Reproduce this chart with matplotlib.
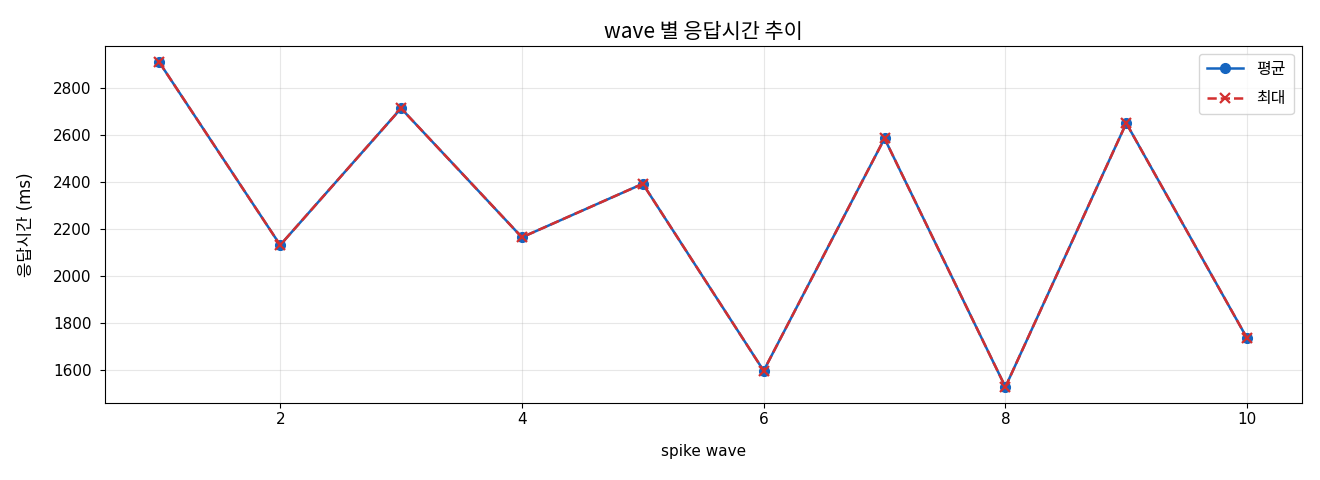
import matplotlib
matplotlib.use("Agg")
import matplotlib.pyplot as plt

plt.rcParams['font.family'] = ['DejaVu Sans', 'Noto Sans CJK KR']
plt.rcParams['axes.unicode_minus'] = False

waves = [1, 2, 3, 4, 5, 6, 7, 8, 9, 10]
avg_ms = [2911, 2133, 2715, 2166, 2394, 1598, 2587, 1529, 2652, 1736]
max_ms = [2911, 2133, 2715, 2166, 2394, 1598, 2587, 1529, 2652, 1736]

fig, ax = plt.subplots(figsize=(13.2, 4.8), dpi=100)
fig.subplots_adjust(left=0.0795, right=0.986, top=0.904, bottom=0.16)

ax.plot(waves, avg_ms, marker='o', color='#1565C0', linewidth=1.8, markersize=7, label='평균')
ax.plot(waves, max_ms, marker='x', linestyle='--', color='#D32F2F', linewidth=1.8, markersize=7,
        markeredgewidth=1.6, label='최대')

ax.set_title('wave 별 응답시간 추이', fontsize=15, family=['Noto Sans CJK KR'], pad=6)
ax.set_xlabel('spike wave', fontsize=11, labelpad=12)
ax.set_ylabel('응답시간 (ms)', fontsize=12, labelpad=13)
ax.tick_params(labelsize=11)
ax.tick_params(axis='y', pad=6)
ax.tick_params(axis='x', pad=3)
ax.grid(True, alpha=0.3)
ax.legend(loc='upper right', fontsize=11.5, handlelength=2.3, labelspacing=0.9,
          borderpad=0.5)

fig.savefig('out.png', dpi=100)
